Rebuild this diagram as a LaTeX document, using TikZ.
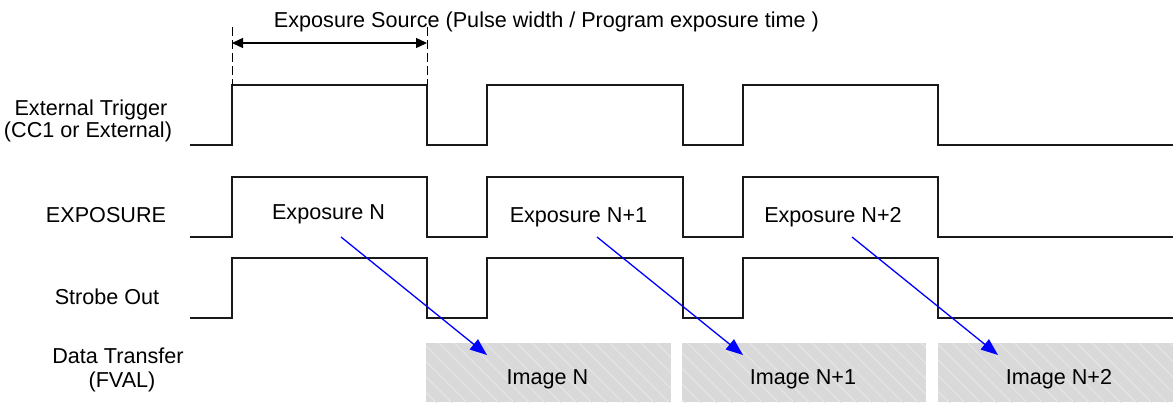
\documentclass[tikz,border=0pt]{standalone}
\usepackage{fontspec}
\setmainfont{Liberation Sans}
\usepackage{tikz}
\usetikzlibrary{arrows.meta,patterns.meta}

\definecolor{boxgray}{HTML}{D9D9D9}
\definecolor{stripe}{HTML}{E6E6E6}
\tikzset{
  sig/.style={line width=1.4pt,black!90},
  lbl/.style={anchor=base,inner sep=0pt,font=\fontsize{21.6}{26}\selectfont},
  xfer/.style={blue,line width=1.3pt,-{Triangle[length=17pt,width=13pt]}},
  dimarrow/.style={line width=1.4pt,{Triangle[length=11pt,width=10pt]}-{Triangle[length=11pt,width=10pt]}},
  guide/.style={line width=1pt,dash pattern=on 9pt off 4pt},
  imgbox/.style={fill=boxgray,postaction={pattern={Lines[angle=-45,distance=11pt,line width=1pt]},pattern color=stripe}},
}

\begin{document}
\begin{tikzpicture}[x=1pt,y=-1pt]
  \useasboundingbox (0,0) rectangle (1175,402);

  % image blocks
  \fill[imgbox] (426,343) rectangle (671,402);
  \fill[imgbox] (682,343) rectangle (926,402);
  \fill[imgbox] (938,343) rectangle (1173,402);

  % waveforms
  \foreach \lo/\hi in {145/85,237/177,318/258}
    \draw[sig] (190,\lo) -- (232,\lo) -- (232,\hi) -- (427,\hi) -- (427,\lo)
      -- (487,\lo) -- (487,\hi) -- (683,\hi) -- (683,\lo) -- (743,\lo)
      -- (743,\hi) -- (938,\hi) -- (938,\lo) -- (1173,\lo);

  % exposure source span
  \coordinate (srcL) at (232,43);
  \coordinate (srcR) at (427,43);
  \draw[guide] (232,27) -- (232,85);
  \draw[guide] (427,27) -- (427,85);
  \draw[dimarrow] (srcL) -- (srcR);
  \node[lbl] (srcText) at (546.5,27) {Exposure Source (Pulse width / Program exposure time )};

  % row labels
  \node[lbl] (trigA) at (91,115) {External Trigger};
  \node[lbl] (trigB) at (88,137) {(CC1 or External)};
  \node[lbl] (expo) at (106,222) {EXPOSURE};
  \node[lbl] (strobe) at (107,304) {Strobe Out};
  \node[lbl] (xferA) at (118,363) {Data Transfer};
  \node[lbl] (xferB) at (122,387) {(FVAL)};

  % exposure and image labels
  \node[lbl] (expN) at (328.5,219) {Exposure N};
  \node[lbl] (expN1) at (578.5,222) {Exposure N+1};
  \node[lbl] (expN2) at (833,222) {Exposure N+2};
  \node[lbl] (imgN) at (547.5,384) {Image N};
  \node[lbl] (imgN1) at (803,384) {Image N+1};
  \node[lbl] (imgN2) at (1059,384) {Image N+2};

  % transfer arrows
  \coordinate (fromN) at (341,237);
  \coordinate (toN) at (487,355);
  \coordinate (fromN1) at (597,237);
  \coordinate (toN1) at (743,355);
  \coordinate (fromN2) at (852,237);
  \coordinate (toN2) at (998,355);
  \draw[xfer] (fromN) -- (toN);
  \draw[xfer] (fromN1) -- (toN1);
  \draw[xfer] (fromN2) -- (toN2);
\end{tikzpicture}
\end{document}
